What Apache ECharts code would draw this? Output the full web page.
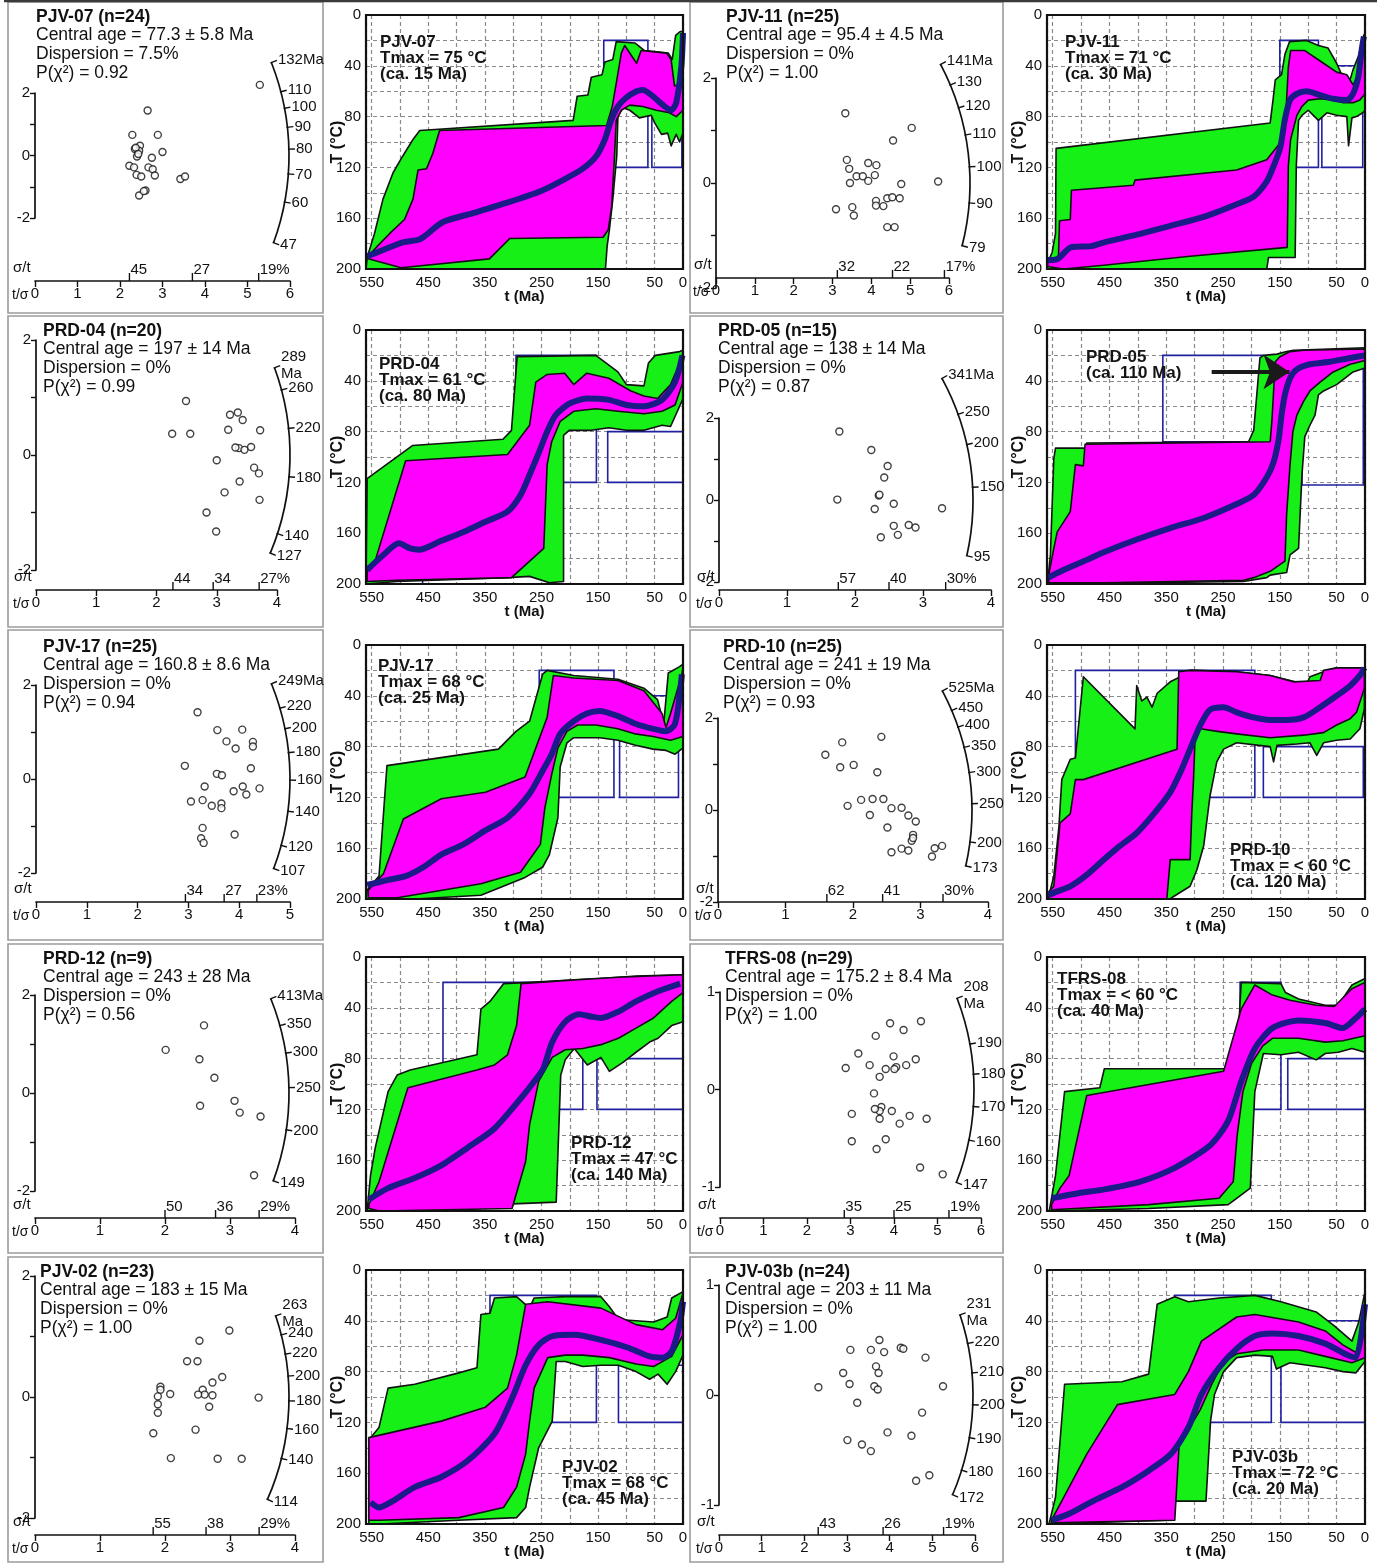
<!DOCTYPE html>
<html>
<head>
<meta charset="utf-8">
<title>Radial plots and thermal histories</title>
<script src="https://cdn.jsdelivr.net/npm/echarts@6.0.0/dist/echarts.min.js"></script>
<style>
html, body { margin: 0; padding: 0; background: #fff; }
#chart { width: 1381px; height: 1564px; }
</style>
</head>
<body>
<div id="chart"></div>
<script>
// ---------- sample summaries ----------
const SAMPLES = ['PJV-07', 'PJV-11', 'PRD-04', 'PRD-05', 'PJV-17', 'PRD-10', 'PRD-12', 'TFRS-08', 'PJV-02', 'PJV-03b'];
const GRAIN_COUNTS = [24, 25, 20, 15, 25, 25, 9, 29, 23, 24];
const CENTRAL_AGE_TEXT = ['77.3 ± 5.8', '95.4 ± 4.5', '197 ± 14', '138 ± 14', '160.8 ± 8.6', '241 ± 19', '243 ± 28', '175.2 ± 8.4', '183 ± 15', '203 ± 11'];
const CENTRAL_AGES = [77.3, 95.4, 197, 138, 160.8, 241, 243, 175.2, 183, 203];
const DISPERSIONS = ['7.5%', '0%', '0%', '0%', '0%', '0%', '0%', '0%', '0%', '0%'];
const P_CHI2 = ['0.92', '1.00', '0.99', '0.87', '0.94', '0.93', '0.56', '1.00', '1.00', '1.00'];
const TMAX_TEXT = ['Tmax = 75 °C', 'Tmax = 71 °C', 'Tmax = 61 °C', null, 'Tmax = 68 °C', 'Tmax = < 60 °C', 'Tmax = 47 °C', 'Tmax = < 60 °C', 'Tmax = 68 °C', 'Tmax = 72 °C'];
const TMAX_AGE = ['(ca. 15 Ma)', '(ca. 30 Ma)', '(ca. 80 Ma)', '(ca. 110 Ma)', '(ca. 25 Ma)', '(ca. 120 Ma)', '(ca. 140 Ma)', '(ca. 40 Ma)', '(ca. 45 Ma)', '(ca. 20 Ma)'];

// ---------- radial plot scales ----------
const TSIG_MAX = [6, 6, 4, 4, 5, 4, 4, 6, 4, 6];
const Z_RANGE = [2, 2, 2, 2, 2, 2, 2, 1, 2, 1];
const PJV07_ARC = [132, 110, 100, 90, 80, 70, 60, 47];
const PJV11_ARC = [141, 130, 120, 110, 100, 90, 79];
const PRD04_ARC = [289, 260, 220, 180, 140, 127];
const PRD05_ARC = [341, 250, 200, 150, 95];
const PJV17_ARC = [249, 220, 200, 180, 160, 140, 120, 107];
const PRD10_ARC = [525, 450, 400, 350, 300, 250, 200, 173];
const PRD12_ARC = [413, 350, 300, 250, 200, 149];
const TFRS08_ARC = [208, 190, 180, 170, 160, 147];
const PJV02_ARC = [263, 240, 220, 200, 180, 160, 140, 114];
const PJV03B_ARC = [231, 220, 210, 200, 190, 180, 172];
const ARC_UNIT_BELOW = [false, false, true, false, false, false, false, true, true, true];

// relative error ticks (σ/t, %)
const PJV07_PCT = [45, 27, 19];
const PJV11_PCT = [32, 22, 17];
const PRD04_PCT = [44, 34, 27];
const PRD05_PCT = [57, 40, 30];
const PJV17_PCT = [34, 27, 23];
const PRD10_PCT = [62, 41, 30];
const PRD12_PCT = [50, 36, 29];
const TFRS08_PCT = [35, 25, 19];
const PJV02_PCT = [55, 38, 29];
const PJV03B_PCT = [43, 26, 19];

// ---------- single-grain ages: [t/σ, standardised estimate] ----------
const PJV07_POINTS = [[5.29,2.26],[2.65,1.44],[2.29,0.66],[2.89,0.66],[2.47,0.31],[2.35,0.21],[2.45,0.15],[3.00,0.11],[2.40,-0.03],[2.75,-0.07],[2.22,-0.33],[2.33,-0.38],[2.67,-0.38],[2.77,-0.44],[2.39,-0.62],[2.50,-0.67],[2.82,-0.64],[3.42,-0.75],[3.53,-0.67],[2.60,-1.12],[2.45,-1.28],[2.56,-1.14],[2.37,0.25],[2.43,0.05]];
const PJV11_POINTS = [[3.33,1.33],[5.04,1.05],[4.56,0.81],[3.37,0.44],[3.92,0.38],[4.13,0.34],[3.43,0.27],[3.62,0.13],[3.78,0.13],[4.09,0.15],[3.92,0.04],[3.45,0.0],[4.77,-0.02],[5.72,0.03],[4.12,-0.34],[4.12,-0.43],[4.31,-0.44],[4.41,-0.29],[4.54,-0.27],[4.73,-0.29],[3.09,-0.50],[3.51,-0.46],[3.55,-0.62],[4.41,-0.84],[4.60,-0.84]];
const PRD04_POINTS = [[2.49,0.94],[2.26,0.37],[2.56,0.37],[3.22,0.70],[3.35,0.74],[3.43,0.61],[3.19,0.44],[3.72,0.43],[3.37,0.12],[3.46,0.09],[3.57,0.14],[3.00,-0.09],[3.62,-0.22],[3.70,-0.32],[3.38,-0.46],[3.13,-0.65],[3.71,-0.78],[2.83,-1.00],[2.99,-1.33],[3.31,0.13]];
const PRD05_POINTS = [[1.77,1.67],[2.24,1.22],[2.48,0.83],[2.43,0.55],[2.35,0.11],[1.74,0.01],[2.29,-0.22],[2.57,-0.09],[3.28,-0.20],[2.57,-0.63],[2.79,-0.61],[2.89,-0.67],[2.38,-0.91],[2.63,-0.85],[2.36,0.13]];
const PJV17_POINTS = [[3.18,1.42],[3.57,1.04],[4.06,1.05],[3.75,0.80],[3.93,0.65],[4.27,0.79],[4.27,0.69],[2.93,0.28],[4.23,0.23],[3.56,0.11],[3.66,0.08],[3.32,-0.16],[4.07,-0.16],[3.89,-0.26],[4.14,-0.33],[4.40,-0.20],[3.05,-0.48],[3.28,-0.45],[3.46,-0.57],[3.65,-0.52],[3.65,-0.62],[3.28,-1.04],[3.91,-1.18],[3.25,-1.26],[3.30,-1.36]];
const PRD10_POINTS = [[2.42,1.59],[1.84,1.47],[1.59,1.20],[1.81,0.93],[2.01,0.98],[2.36,0.82],[1.92,0.09],[2.12,0.22],[2.29,0.24],[2.45,0.24],[2.25,-0.11],[2.57,0.04],[2.72,0.05],[2.82,-0.12],[2.93,-0.25],[2.51,-0.38],[2.89,-0.54],[2.87,-0.67],[2.57,-0.92],[2.72,-0.84],[2.82,-0.88],[3.17,-1.01],[3.21,-0.83],[3.32,-0.78],[2.89,-0.61]];
const PRD12_POINTS = [[2.60,1.38],[2.01,0.88],[2.53,0.69],[2.76,0.31],[2.54,-0.26],[3.07,-0.16],[3.15,-0.40],[3.47,-0.48],[3.37,-1.68]];
const TFRS08_POINTS = [[3.91,0.68],[4.62,0.70],[4.22,0.61],[3.58,0.55],[3.18,0.37],[3.99,0.34],[4.50,0.31],[2.89,0.22],[3.44,0.25],[3.81,0.21],[4.05,0.23],[4.28,0.25],[4.01,0.21],[3.67,0.13],[3.54,-0.04],[3.71,-0.18],[3.67,-0.22],[3.95,-0.22],[3.03,-0.25],[4.36,-0.27],[4.75,-0.30],[3.67,-0.30],[4.13,-0.35],[3.03,-0.53],[3.81,-0.51],[3.60,-0.61],[4.60,-0.80],[5.12,-0.87],[3.56,-0.20]];
const PJV02_POINTS = [[2.99,1.10],[2.53,0.93],[2.34,0.59],[2.50,0.59],[2.88,0.33],[2.73,0.24],[1.93,0.17],[1.93,0.12],[2.08,0.05],[2.58,0.12],[2.61,0.04],[2.73,0.03],[1.89,0.01],[1.89,-0.12],[1.89,-0.26],[2.68,-0.16],[3.44,-0.01],[2.47,-0.54],[1.82,-0.60],[2.09,-1.01],[2.81,-1.02],[3.18,-1.02],[2.51,0.04]];
const PJV03B_POINTS = [[3.76,0.50],[4.26,0.43],[4.32,0.42],[3.08,0.41],[3.56,0.41],[3.87,0.39],[4.84,0.34],[2.91,0.20],[3.68,0.26],[3.74,0.20],[3.06,0.10],[3.64,0.08],[3.72,0.05],[2.33,0.07],[5.25,0.08],[3.24,-0.07],[4.76,-0.16],[3.95,-0.34],[4.51,-0.37],[3.01,-0.41],[3.35,-0.45],[3.56,-0.51],[4.62,-0.78],[4.93,-0.73]];

// ---------- thermal histories: [t (Ma), T (°C)] ----------
// acceptable-fit envelope (outline), good-fit envelope (outline), weighted mean path, constraint boxes [t old, t young, T top, T bottom]
const PJV07_ACCEPT = [[558,191],[545,172],[530,145],[512,124],[495,111],[477,98],[465,91],[194,83],[187,64],[168,63],[162,49],[143,47],[138,37],[124,35],[118,21],[85,22],[68,28],[47,29],[26,30],[19,35],[13,16],[5,13],[0,13],[0,93],[6,100],[12,94],[21,103],[27,93],[38,94],[50,85],[56,79],[77,81],[94,75],[106,73],[115,80],[117,111],[124,145],[130,169],[134,182],[137,200],[560,200]];
const PJV07_GOOD = [[556,190],[542,183],[518,172],[492,161],[477,145],[468,122],[453,121],[442,109],[430,91],[135,87],[125,72],[118,54],[109,30],[103,24],[82,38],[74,28],[29,30],[21,35],[15,56],[7,54],[1,28],[0,14],[0,75],[12,80],[24,77],[47,75],[71,72],[94,71],[109,75],[118,83],[121,111],[126,151],[132,169],[141,175],[306,176],[342,192],[498,199],[556,192]];
const PJV07_PATH = [[558,190],[530,185],[495,179],[468,177],[459,175],[424,163],[371,156],[312,148],[253,139],[212,130],[177,121],[153,111],[138,98],[127,83],[115,72],[100,65],[82,60],[71,59],[53,64],[35,71],[21,75],[12,69],[3,41],[0,14]];
const PJV07_BOXES = [[140,62,20,120],[55,2,80,120]];

const PJV11_ACCEPT = [[559,195],[551,187],[545,172],[544,105],[167,85],[162,67],[158,51],[147,47],[141,31],[133,21],[103,20],[82,24],[65,26],[50,38],[41,47],[29,55],[21,43],[12,33],[3,17],[0,14],[0,75],[4,77],[15,80],[23,81],[29,103],[32,80],[50,79],[67,77],[82,83],[91,79],[100,75],[111,79],[117,83],[121,119],[123,191],[170,191],[173,200],[560,200]];
const PJV11_GOOD = [[559,195],[540,193],[538,162],[519,161],[517,138],[408,134],[405,130],[226,122],[173,114],[150,101],[139,75],[135,41],[131,28],[106,28],[73,38],[50,45],[32,47],[21,55],[12,47],[3,20],[0,16],[0,62],[9,67],[21,69],[38,69],[56,67],[79,66],[100,67],[111,72],[120,79],[131,98],[135,119],[137,183],[308,190],[460,197],[531,200],[559,198]];
const PJV11_PATH = [[559,193],[541,192],[518,183],[483,182],[459,179],[402,173],[343,166],[284,159],[226,149],[196,143],[173,131],[161,119],[149,104],[141,82],[132,67],[120,62],[103,60],[79,63],[56,66],[32,67],[21,62],[12,49],[6,28],[2,17]];
const PJV11_BOXES = [[150,82,20,120],[76,4,40,120]];

const PRD04_ACCEPT = [[560,200],[558,117],[552,115],[478,91],[318,86],[303,79],[293,21],[154,20],[115,33],[100,43],[69,44],[61,26],[49,20],[6,17],[0,16],[0,54],[22,76],[37,75],[69,79],[100,79],[131,77],[162,79],[201,79],[211,83],[211,198],[236,199],[271,194],[310,195],[505,198],[560,200]];
const PRD04_GOOD = [[558,190],[544,182],[490,103],[310,98],[271,75],[260,41],[240,35],[209,34],[193,43],[170,34],[131,38],[92,48],[69,52],[45,54],[22,43],[2,22],[0,17],[0,41],[14,59],[37,64],[69,66],[115,64],[154,62],[193,64],[217,72],[232,88],[240,106],[246,172],[303,195],[505,197],[558,198]];
const PRD04_PATH = [[558,189],[529,177],[502,168],[482,172],[466,173],[427,166],[388,159],[349,151],[310,143],[287,130],[271,114],[256,98],[240,80],[225,67],[201,58],[170,54],[131,55],[100,59],[69,60],[37,55],[14,41],[1,20]];
const PRD04_BOXES = [[295,153,20,120],[133,0,80,120],[560,460,196,200]];

const PRD05_ACCEPT = [[558,195],[554,177],[548,101],[545,93],[493,93],[490,89],[205,88],[196,79],[185,22],[179,20],[155,19],[138,17],[126,16],[0,14],[0,30],[21,33],[50,43],[73,48],[82,51],[88,67],[97,75],[106,84],[111,114],[117,172],[132,177],[138,191],[167,193],[173,195],[214,198],[560,200]];
const PRD05_GOOD = [[557,193],[548,172],[542,159],[519,143],[510,106],[496,107],[493,90],[167,88],[164,72],[158,25],[150,21],[132,17],[108,16],[0,15],[0,24],[26,27],[56,33],[79,41],[97,48],[108,56],[120,67],[127,80],[132,106],[138,145],[141,182],[167,190],[196,195],[214,197],[460,199],[557,199]];
const PRD05_PATH = [[558,195],[531,189],[490,181],[460,175],[402,165],[343,156],[284,148],[226,137],[196,130],[173,116],[161,104],[152,86],[147,67],[141,51],[132,38],[120,31],[97,27],[62,25],[26,22],[0,20]];
const PRD05_BOXES = [[356,180,20,88],[111,3,20,122]];
const PRD05_ARROW = [[270,33],[133,33]];

const PJV17_ACCEPT = [[558,193],[537,182],[523,95],[326,82],[295,68],[271,60],[248,23],[240,20],[193,24],[115,27],[69,34],[45,43],[34,62],[26,22],[6,17],[0,15],[0,81],[14,86],[30,83],[53,82],[84,79],[115,75],[147,73],[193,73],[205,77],[217,96],[221,136],[236,165],[248,175],[279,183],[357,197],[474,200],[560,200]];
const PJV17_GOOD = [[556,193],[529,180],[494,137],[427,121],[349,116],[279,104],[240,57],[229,24],[193,26],[115,28],[69,36],[37,54],[30,65],[22,54],[2,23],[0,18],[0,72],[22,75],[53,72],[84,70],[115,66],[154,63],[186,63],[205,68],[221,81],[232,102],[244,128],[252,157],[287,179],[357,188],[505,199],[556,199]];
const PJV17_PATH = [[558,189],[521,185],[490,182],[459,175],[427,165],[388,157],[349,146],[310,136],[271,117],[248,99],[232,86],[217,70],[193,60],[170,54],[147,52],[115,56],[84,62],[53,66],[30,68],[14,62],[2,23]];
const PJV17_BOXES = [[254,122,20,120],[112,8,40,120]];

const PRD10_ACCEPT = [[557,198],[548,182],[539,143],[534,106],[519,90],[510,89],[496,25],[405,66],[402,32],[393,44],[384,41],[375,49],[366,38],[343,29],[325,25],[308,20],[226,21],[167,24],[123,29],[114,37],[108,36],[97,25],[73,21],[50,18],[1,18],[1,50],[9,66],[26,74],[50,75],[73,77],[85,87],[97,77],[120,78],[155,79],[161,92],[167,80],[226,77],[249,82],[261,92],[273,119],[284,158],[296,177],[308,190],[337,198],[343,200],[560,200]];
const PRD10_GOOD = [[558,195],[548,190],[537,140],[519,133],[510,106],[496,106],[331,82],[328,21],[308,20],[226,21],[167,24],[126,29],[79,28],[73,20],[50,18],[1,18],[1,34],[15,53],[26,58],[50,63],[73,69],[108,71],[167,73],[226,70],[260,68],[290,66],[299,70],[302,106],[305,132],[308,169],[343,169],[349,200],[558,200]];
const PRD10_PATH = [[558,197],[542,194],[519,190],[490,181],[460,169],[431,158],[402,148],[372,133],[343,116],[325,100],[308,82],[290,63],[273,51],[249,49],[226,53],[196,57],[167,59],[138,59],[108,57],[79,49],[50,40],[26,32],[9,24],[1,18]];
const PRD10_BOXES = [[510,194,20,120],[179,3,80,120]];

const PRD12_ACCEPT = [[558,200],[552,172],[544,151],[521,106],[505,93],[482,89],[364,77],[357,41],[341,35],[317,21],[271,20],[145,17],[83,15],[0,14],[0,51],[20,54],[44,64],[59,67],[83,75],[106,83],[130,90],[145,79],[169,85],[192,72],[208,81],[216,93],[224,193],[333,195],[521,198],[558,200]];
const PRD12_GOOD = [[555,195],[537,177],[486,103],[364,89],[333,85],[310,77],[294,54],[286,21],[192,18],[114,16],[0,14],[0,28],[20,35],[52,48],[83,56],[114,64],[145,69],[177,72],[208,73],[231,79],[255,98],[271,132],[278,161],[302,198],[536,200],[555,198]];
const PRD12_PATH = [[555,191],[521,182],[474,174],[427,164],[380,150],[333,135],[286,111],[263,98],[247,88],[231,67],[208,51],[184,45],[161,47],[145,48],[114,43],[83,35],[44,27],[5,21]];
const PRD12_BOXES = [[424,177,20,120],[152,0,80,120]];

const TFRS08_ACCEPT = [[556,200],[545,172],[529,106],[467,103],[459,88],[241,88],[226,85],[218,20],[148,21],[140,28],[117,33],[70,38],[47,38],[23,22],[0,17],[0,75],[23,72],[47,75],[70,76],[86,81],[117,75],[148,77],[179,76],[194,106],[202,182],[226,190],[241,195],[381,198],[556,200]];
const TFRS08_GOOD = [[552,195],[537,182],[521,172],[490,109],[249,90],[218,41],[194,22],[163,30],[132,34],[86,38],[54,39],[23,25],[0,20],[0,62],[39,66],[70,67],[117,64],[163,64],[180,70],[200,84],[215,106],[225,140],[232,177],[257,190],[381,195],[552,199]];
const TFRS08_PATH = [[552,190],[505,186],[459,183],[397,177],[335,166],[272,148],[241,129],[218,98],[194,72],[163,56],[117,50],[70,52],[39,56],[16,48],[0,41]];
const TFRS08_BOXES = [[220,148,20,120],[136,0,80,120]];

const PJV02_ACCEPT = [[555,200],[552,132],[537,124],[521,93],[474,90],[396,81],[364,77],[357,35],[341,34],[333,22],[294,21],[271,30],[263,22],[208,21],[145,21],[130,29],[114,39],[52,41],[28,37],[20,22],[0,17],[0,67],[13,80],[28,90],[44,82],[59,86],[83,80],[114,75],[145,75],[177,76],[208,72],[224,72],[231,119],[255,140],[271,171],[278,187],[294,195],[396,197],[536,200],[555,200]];
const PJV02_GOOD = [[555,197],[555,132],[427,119],[349,108],[310,93],[294,67],[278,27],[239,25],[145,30],[83,43],[36,47],[13,38],[0,18],[0,51],[20,68],[52,76],[83,74],[130,69],[177,67],[208,67],[239,69],[263,93],[271,119],[278,145],[294,171],[317,187],[396,195],[536,197],[555,197]];
const PJV02_PATH = [[552,183],[537,187],[513,182],[474,171],[427,163],[380,150],[333,129],[302,101],[278,75],[255,59],[231,52],[192,51],[145,55],[98,61],[59,68],[36,69],[20,64],[5,41],[0,25]];
const PJV02_BOXES = [[341,153,20,120],[114,0,75,120]];

const PJV03B_ACCEPT = [[556,199],[545,179],[529,90],[428,88],[381,82],[366,27],[335,21],[311,25],[257,22],[194,20],[148,25],[86,33],[54,44],[23,56],[11,41],[0,17],[0,72],[16,81],[39,80],[70,77],[101,75],[132,73],[156,78],[163,68],[194,67],[226,69],[249,80],[265,98],[272,119],[280,182],[335,182],[350,197],[556,200]];
const PJV03B_GOOD = [[552,197],[521,171],[490,145],[436,106],[335,98],[311,80],[288,56],[226,37],[194,35],[117,41],[70,48],[39,59],[16,65],[0,46],[0,69],[23,73],[70,68],[117,63],[179,63],[226,66],[250,73],[270,90],[290,110],[310,125],[327,135],[335,197],[552,199]];
const PJV03B_PATH = [[552,197],[521,192],[475,181],[428,171],[381,158],[342,145],[311,124],[288,98],[257,77],[226,62],[194,52],[163,50],[117,52],[70,58],[31,67],[16,69],[0,27]];
const PJV03B_BOXES = [[335,165,20,120],[148,0,40,120],[552,460,197,200]];

// ---------- collections used to build the panels ----------
const ARCS = [PJV07_ARC, PJV11_ARC, PRD04_ARC, PRD05_ARC, PJV17_ARC, PRD10_ARC, PRD12_ARC, TFRS08_ARC, PJV02_ARC, PJV03B_ARC];
const PCTS = [PJV07_PCT, PJV11_PCT, PRD04_PCT, PRD05_PCT, PJV17_PCT, PRD10_PCT, PRD12_PCT, TFRS08_PCT, PJV02_PCT, PJV03B_PCT];
const POINTS = [PJV07_POINTS, PJV11_POINTS, PRD04_POINTS, PRD05_POINTS, PJV17_POINTS, PRD10_POINTS, PRD12_POINTS, TFRS08_POINTS, PJV02_POINTS, PJV03B_POINTS];
const ACCEPT = [PJV07_ACCEPT, PJV11_ACCEPT, PRD04_ACCEPT, PRD05_ACCEPT, PJV17_ACCEPT, PRD10_ACCEPT, PRD12_ACCEPT, TFRS08_ACCEPT, PJV02_ACCEPT, PJV03B_ACCEPT];
const GOOD = [PJV07_GOOD, PJV11_GOOD, PRD04_GOOD, PRD05_GOOD, PJV17_GOOD, PRD10_GOOD, PRD12_GOOD, TFRS08_GOOD, PJV02_GOOD, PJV03B_GOOD];
const PATHS = [PJV07_PATH, PJV11_PATH, PRD04_PATH, PRD05_PATH, PJV17_PATH, PRD10_PATH, PRD12_PATH, TFRS08_PATH, PJV02_PATH, PJV03B_PATH];
const BOXES = [PJV07_BOXES, PJV11_BOXES, PRD04_BOXES, PRD05_BOXES, PJV17_BOXES, PRD10_BOXES, PRD12_BOXES, TFRS08_BOXES, PJV02_BOXES, PJV03B_BOXES];

// ---------- layout (pixels) ----------
// radial: [grid left, grid top, width, height, y of the t/σ axis line]
const RADIAL_LAYOUT = [
  [35, 93, 255, 125, 281], [716, 78, 233, 210, 278],
  [36, 340, 241, 230, 590], [719, 418, 272, 164, 590],
  [36, 685, 254, 188, 902], [718, 718, 270, 184, 902],
  [35, 995, 260, 196, 1218], [720, 992, 261, 195, 1218],
  [35, 1276, 260, 242, 1535], [719, 1285, 256, 220, 1535]
];
const RADIAL_TEXT_X = [36, 726, 43, 718, 43, 723, 43, 725, 40, 725];
const ROW_TOP = [0, 314, 630, 942, 1255];
const ROW_BOX = [[2, 311], [316, 311], [630, 310], [944, 309], [1257, 305]];
const THERMAL_LAYOUT = [[366, 15], [1047, 15], [366, 330], [1047, 330], [366, 645], [1047, 645], [366, 957], [1047, 957], [366, 1270], [1047, 1270]];
const THERMAL_HEIGHT = 254;
const THERMAL_LABEL_POS = [[380, 42], [1065, 42], [379, 364], [1086, 357], [378, 666], [1230, 850], [571, 1143], [1057, 979], [562, 1467], [1232, 1457]];

const FONT = "'Liberation Sans', Arial, Helvetica, sans-serif";
const INK = '#111111';
const ARC_R = 254;
const GREEN = '#16f016';
const MAGENTA = '#ff00ff';
const PATH_BLUE = '#1b1b88';
const BOX_BLUE = '#2020a0';

// ---------- render helpers ----------
function arcItem(ages, t0) {
  return function (params, api) {
    const o = api.coord([0, 0]);
    const unit = (p) => {
      const dx = p[0] - o[0], dy = p[1] - o[1];
      const n = Math.hypot(dx, dy);
      return [dx / n, dy / n];
    };
    const d = unit(api.coord([api.value(0), api.value(1)]));
    const children = [];
    if (params.dataIndex === 0) {
      const angles = ages.map(a => {
        const u = unit(api.coord([1, Math.log(a / t0)]));
        return Math.atan2(u[1], u[0]);
      });
      children.push({
        type: 'arc',
        shape: { cx: o[0], cy: o[1], r: ARC_R, startAngle: Math.min.apply(null, angles), endAngle: Math.max.apply(null, angles), clockwise: true },
        style: { stroke: INK, lineWidth: 1.7, fill: 'none' }
      });
    }
    children.push({
      type: 'line',
      shape: { x1: o[0] + d[0] * (ARC_R - 1), y1: o[1] + d[1] * (ARC_R - 1), x2: o[0] + d[0] * (ARC_R + 6), y2: o[1] + d[1] * (ARC_R + 6) },
      style: { stroke: INK, lineWidth: 1.4 }
    });
    return { type: 'group', children: children };
  };
}

function arcLabelItem(ages, t0, unitBelow) {
  return function (params, api) {
    const o = api.coord([0, 0]);
    const p = api.coord([api.value(0), api.value(1)]);
    const dx = p[0] - o[0], dy = p[1] - o[1];
    const n = Math.hypot(dx, dy);
    const age = ages[params.dataIndex];
    const first = params.dataIndex === 0;
    let text = String(age);
    if (first) text = unitBelow ? age + '\nMa' : age + 'Ma';
    return {
      type: 'text',
      x: o[0] + dx / n * (ARC_R + 7),
      y: o[1] + dy / n * (ARC_R + 7),
      style: { text: text, fill: INK, font: '15px ' + FONT, textAlign: 'left', textVerticalAlign: 'middle', lineHeight: 17 }
    };
  };
}

function pctItem(pcts, axisY) {
  return function (params, api) {
    const x = api.coord([api.value(0), 0])[0];
    const p = pcts[params.dataIndex];
    const last = params.dataIndex === pcts.length - 1;
    return {
      type: 'group',
      children: [
        { type: 'line', shape: { x1: x, y1: axisY, x2: x, y2: axisY - 8 }, style: { stroke: INK, lineWidth: 1.4 } },
        { type: 'text', x: x + 1, y: axisY - 4, style: { text: p + (last ? '%' : ''), fill: INK, font: '15px ' + FONT, textAlign: 'left', textVerticalAlign: 'bottom' } }
      ]
    };
  };
}

function polygonItem(pts, fill) {
  return function (params, api) {
    if (params.dataIndex !== 0) return null;
    return {
      type: 'polygon',
      shape: { points: pts.map(p => api.coord(p)) },
      style: { fill: fill, stroke: INK, lineWidth: 1.6, lineJoin: 'round' }
    };
  };
}

function boxItem(params, api) {
  const a = api.coord([api.value(0), api.value(2)]);
  const b = api.coord([api.value(1), api.value(3)]);
  return {
    type: 'rect',
    shape: { x: Math.min(a[0], b[0]), y: Math.min(a[1], b[1]), width: Math.abs(b[0] - a[0]), height: Math.abs(b[1] - a[1]) },
    style: { fill: 'none', stroke: BOX_BLUE, lineWidth: 1.6 }
  };
}

// ---------- build option ----------
const option = { animation: false, backgroundColor: '#ffffff', grid: [], xAxis: [], yAxis: [], series: [], graphic: [] };
const g = option.graphic;

g.push({ type: 'line', shape: { x1: 4, y1: 1, x2: 1377, y2: 1 }, style: { stroke: '#3a3a3a', lineWidth: 2.5 }, z: 50 });

const labelStyle = { color: INK, fontSize: 15, fontFamily: FONT };

SAMPLES.forEach(function (name, i) {
  const row = Math.floor(i / 2);
  const left = i % 2 === 0;

  // ----- cell frame for the radial plot -----
  const bx = left ? 8 : 690, bw = left ? 315 : 313;
  g.push({ type: 'rect', shape: { x: bx, y: ROW_BOX[row][0], width: bw, height: ROW_BOX[row][1] }, style: { fill: 'none', stroke: '#9c9c9c', lineWidth: 1.6 }, z: 1 });

  // ----- radial plot -----
  const L = RADIAL_LAYOUT[i];
  const zr = Z_RANGE[i];
  const gR = option.grid.length;
  option.grid.push({ left: L[0], top: L[1], width: L[2], height: L[3] });
  const xR = option.xAxis.length;
  option.xAxis.push({
    gridIndex: gR, type: 'value', min: 0, max: TSIG_MAX[i], interval: 1, position: 'bottom',
    offset: L[4] - (L[1] + L[3]),
    axisLine: { show: true, onZero: false, lineStyle: { color: INK, width: 1.7 } },
    axisTick: { show: true, length: 6, lineStyle: { color: INK, width: 1.4 } },
    axisLabel: Object.assign({ margin: 5 }, labelStyle),
    splitLine: { show: false }
  });
  const yR = option.yAxis.length;
  option.yAxis.push({
    gridIndex: gR, type: 'value', min: -zr, max: zr, interval: 1,
    axisLine: { show: true, onZero: false, lineStyle: { color: INK, width: 1.7 } },
    axisTick: { show: true, length: 5, lineStyle: { color: INK, width: 1.4 } },
    axisLabel: Object.assign({ margin: 5, formatter: v => (v === 0 || Math.abs(v) === zr) ? String(v) : '' }, labelStyle),
    splitLine: { show: false }
  });
  const t0 = CENTRAL_AGES[i];
  const arcData = ARCS[i].map(a => [1, Math.log(a / t0)]);
  option.series.push({
    type: 'custom', xAxisIndex: xR, yAxisIndex: yR, silent: true, z: 3,
    data: arcData, renderItem: arcItem(ARCS[i], t0)
  });
  option.series.push({
    type: 'custom', xAxisIndex: xR, yAxisIndex: yR, silent: true, z: 3,
    data: arcData, renderItem: arcLabelItem(ARCS[i], t0, ARC_UNIT_BELOW[i])
  });
  option.series.push({
    type: 'custom', xAxisIndex: xR, yAxisIndex: yR, silent: true, z: 3,
    data: PCTS[i].map(p => [100 / p, 0]),
    renderItem: pctItem(PCTS[i], L[4])
  });
  option.series.push({
    type: 'scatter', xAxisIndex: xR, yAxisIndex: yR, silent: true, z: 5, clip: false,
    data: POINTS[i], symbol: 'circle', symbolSize: 7,
    itemStyle: { color: '#ffffff', borderColor: INK, borderWidth: 1.4 }
  });
  g.push({ type: 'text', x: L[0] - 22, y: L[4] - 13, style: { text: 'σ/t', fill: INK, font: '15px ' + FONT, textAlign: 'left', textVerticalAlign: 'middle' }, z: 10 });
  g.push({ type: 'text', x: L[0] - 23, y: L[4] + 14, style: { text: 't/σ', fill: INK, font: '14px ' + FONT, textAlign: 'left', textVerticalAlign: 'middle' }, z: 10 });

  const tx = RADIAL_TEXT_X[i], ty = ROW_TOP[row];
  const lines = [
    { t: name + ' (n=' + GRAIN_COUNTS[i] + ')', bold: true },
    { t: 'Central age = ' + CENTRAL_AGE_TEXT[i] + ' Ma' },
    { t: 'Dispersion = ' + DISPERSIONS[i] },
    { t: 'P(χ²) = ' + P_CHI2[i] }
  ];
  lines.forEach(function (ln, k) {
    g.push({ type: 'text', x: tx, y: ty + 17 + k * 18.6, style: { text: ln.t, fill: INK, font: (ln.bold ? 'bold ' : '') + '17.5px ' + FONT, textAlign: 'left', textVerticalAlign: 'middle' }, z: 10 });
  });

  // ----- thermal history -----
  const T = THERMAL_LAYOUT[i];
  const tw = left ? 317 : 318;
  const gT = option.grid.length;
  option.grid.push({ left: T[0], top: T[1], width: tw, height: THERMAL_HEIGHT });
  const xT = option.xAxis.length;
  option.xAxis.push({
    gridIndex: gT, type: 'value', min: 0, max: 560, interval: 50, inverse: true,
    axisLine: { show: false }, axisTick: { show: false },
    axisLabel: Object.assign({ margin: 6, formatter: v => (v % 100 === 50 || v === 0) ? String(v) : '' }, labelStyle),
    splitLine: { show: true, lineStyle: { color: '#8a8a8a', type: [4, 3], width: 1.2 } },
    name: 't (Ma)', nameLocation: 'middle', nameGap: 20, nameMoveOverlap: false,
    nameTextStyle: { color: INK, fontSize: 15, fontWeight: 'bold', fontFamily: FONT }
  });
  const yT = option.yAxis.length;
  option.yAxis.push({
    gridIndex: gT, type: 'value', min: 0, max: 200, interval: 20, inverse: true,
    axisLine: { show: false }, axisTick: { show: false },
    axisLabel: Object.assign({ margin: 5, formatter: v => (v % 40 === 0) ? String(v) : '' }, labelStyle),
    splitLine: { show: true, lineStyle: { color: '#8a8a8a', type: [4, 3], width: 1.2 } },
    name: 'T (°C)', nameLocation: 'middle', nameGap: 20, nameRotate: 90, nameMoveOverlap: false,
    nameTextStyle: { color: INK, fontSize: 16, fontWeight: 'bold', fontFamily: FONT }
  });
  option.series.push({
    type: 'custom', xAxisIndex: xT, yAxisIndex: yT, silent: true, z: 2,
    data: BOXES[i], encode: { x: [0, 1], y: [2, 3] }, renderItem: boxItem
  });
  option.series.push({
    type: 'custom', xAxisIndex: xT, yAxisIndex: yT, silent: true, z: 3,
    data: ACCEPT[i], renderItem: polygonItem(ACCEPT[i], GREEN)
  });
  option.series.push({
    type: 'custom', xAxisIndex: xT, yAxisIndex: yT, silent: true, z: 4,
    data: GOOD[i], renderItem: polygonItem(GOOD[i], MAGENTA)
  });
  const pathSeries = {
    type: 'line', xAxisIndex: xT, yAxisIndex: yT, silent: true, z: 6,
    data: PATHS[i], symbol: 'none', showSymbol: false, smooth: 0.25,
    lineStyle: { color: PATH_BLUE, width: 6 }
  };
  if (name === 'PRD-05') {
    pathSeries.markLine = {
      silent: true, animation: false, symbol: ['none', 'arrow'], symbolSize: 26,
      lineStyle: { color: '#1a1a1a', width: 4, type: 'solid' },
      label: { show: false },
      data: [[{ coord: PRD05_ARROW[0] }, { coord: PRD05_ARROW[1] }]]
    };
  }
  option.series.push(pathSeries);

  g.push({ type: 'rect', shape: { x: T[0], y: T[1], width: tw, height: THERMAL_HEIGHT }, style: { fill: 'none', stroke: INK, lineWidth: 2.2 }, z: 40 });

  const tl = [name];
  if (TMAX_TEXT[i]) tl.push(TMAX_TEXT[i]);
  tl.push(TMAX_AGE[i]);
  const P = THERMAL_LABEL_POS[i];
  tl.forEach(function (t, k) {
    g.push({ type: 'text', x: P[0], y: P[1] + k * 16, style: { text: t, fill: '#151515', font: 'bold 17px ' + FONT, textAlign: 'left', textVerticalAlign: 'middle' }, z: 45 });
  });
});

const chart = echarts.init(document.getElementById('chart'), null, { renderer: 'canvas' });
chart.setOption(option);
</script>
</body>
</html>
